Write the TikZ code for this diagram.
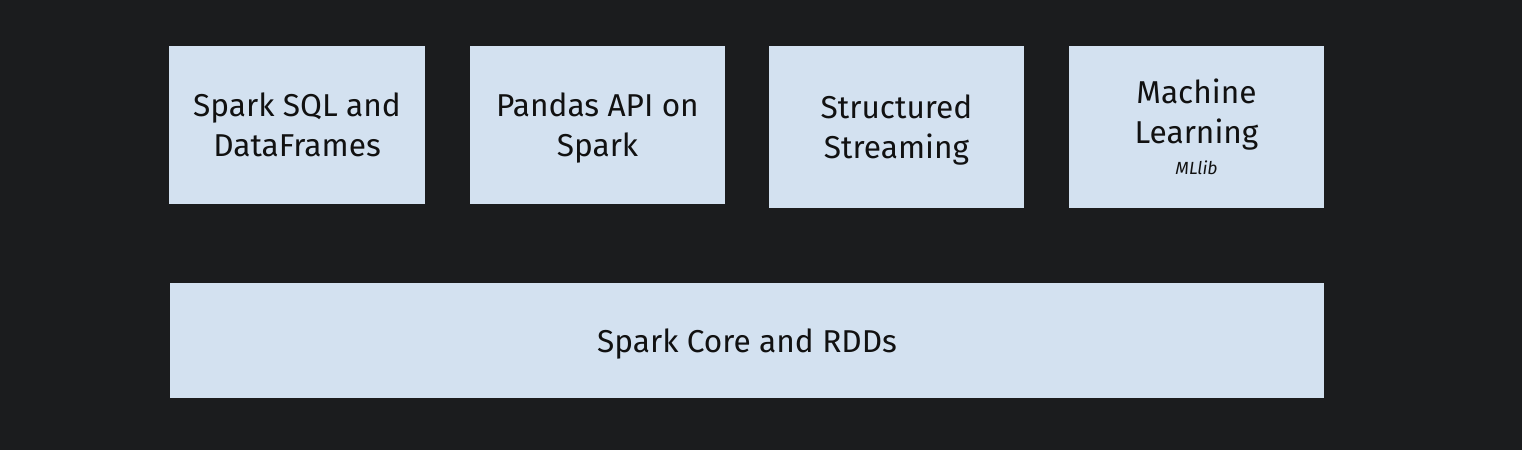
\documentclass[tikz,border=0pt]{standalone}
\usepackage{fontspec}
\setmainfont{Fira Sans}
\usetikzlibrary{positioning}
\definecolor{bgdark}{HTML}{1B1C1E}
\definecolor{boxblue}{HTML}{D3E1F0}
\definecolor{ink}{HTML}{111111}

\begin{document}
\begin{tikzpicture}[x=0.02cm, y=0.02cm,
    layer/.style={fill=boxblue, inner sep=0pt, align=center, text=ink, text depth=0pt,
        font=\fontsize{18}{22.8}\selectfont}]
    \fill[bgdark] (0,0) rectangle (1522,450);
    \useasboundingbox (0,0) rectangle (1522,450);

    \node[layer, minimum width=5.12cm, minimum height=3.16cm] (sql) at (297,325) {Spark SQL and\\DataFrames};
    \node[layer, minimum width=5.1cm, minimum height=3.16cm] (pandas) at (597.5,325) {Pandas API on\\Spark};
    \node[layer, minimum width=5.1cm, minimum height=3.24cm] (streaming) at (896.5,323) {Structured\\Streaming};
    \node[layer, minimum width=5.1cm, minimum height=3.24cm] (mllib) at (1196.5,323) {Machine\\Learning\\[-5pt]{\fontsize{10}{12}\selectfont\itshape MLlib}};

    \node[layer, minimum width=23.08cm, minimum height=2.3cm] (core) at (747,109.5) {Spark Core and RDDs};
\end{tikzpicture}
\end{document}
